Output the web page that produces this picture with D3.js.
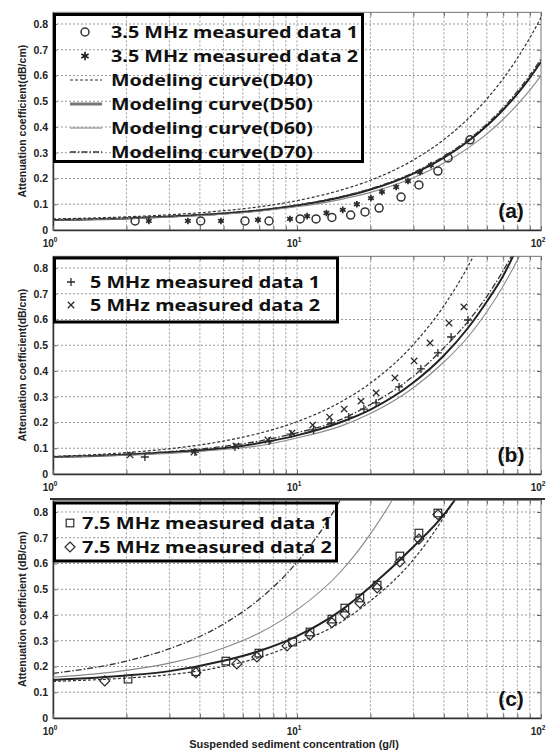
<!DOCTYPE html>
<html><head><meta charset="utf-8">
<script src="https://cdn.jsdelivr.net/npm/d3@7"></script>
<style>body{margin:0;background:#fff}svg{display:block}</style>
</head><body>
<svg id="chart" width="551" height="752"></svg>
<script>
// ---------- DATA ----------
const concGrid = [1,2,3,5,7,10,15,20,30,40,50,60,70,80,90,100];
const curveNames = ["Modeling curve(D40)","Modeling curve(D50)","Modeling curve(D60)","Modeling curve(D70)"];
const yTickValues = [0,0.1,0.2,0.3,0.4,0.5,0.6,0.7,0.8];
const xLabelTicks = [{base:"10",exp:"0",v:1},{base:"10",exp:"1",v:10},{base:"10",exp:"2",v:100}];

// 3.5 MHz
const a_D40 = [0.043,0.051,0.059,0.075,0.090,0.114,0.154,0.193,0.272,0.351,0.430,0.509,0.588,0.667,0.746,0.825];
const a_D50 = [0.039,0.045,0.052,0.064,0.076,0.095,0.126,0.157,0.219,0.281,0.343,0.405,0.467,0.529,0.591,0.653];
const a_D60 = [0.039,0.044,0.050,0.061,0.073,0.090,0.118,0.146,0.203,0.260,0.317,0.373,0.430,0.487,0.543,0.600];
const a_D70 = [0.040,0.047,0.053,0.066,0.078,0.097,0.129,0.160,0.223,0.286,0.349,0.412,0.475,0.538,0.601,0.664];
const a_data1 = [[2.17,0.035],[4.03,0.035],[6.12,0.035],[7.68,0.035],[10.3,0.043],[11.97,0.043],[13.9,0.049],[16.6,0.058],[19.0,0.07],[21.7,0.085],[26.7,0.128],[31.6,0.175],[37.8,0.229],[41.6,0.28],[51.2,0.35]];
const a_data2 = [[2.47,0.035],[3.57,0.035],[4.88,0.035],[6.92,0.039],[9.36,0.043],[11.0,0.054],[13.2,0.066],[15.4,0.078],[17.6,0.10],[20.1,0.124],[22.3,0.148],[25.5,0.167],[28.5,0.19],[31.9,0.225],[35.4,0.252]];

// 5 MHz
const b_D40 = [0.068,0.083,0.098,0.128,0.158,0.203,0.278,0.353,0.503,0.653,0.803,0.953,1.103,1.253,1.403,1.553];
const b_D50 = [0.066,0.075,0.084,0.100,0.120,0.150,0.200,0.250,0.355,0.460,0.565,0.670,0.770,0.880,0.980,1.090];
const b_D60 = [0.065,0.073,0.080,0.095,0.110,0.140,0.185,0.235,0.335,0.435,0.530,0.630,0.730,0.830,0.925,1.020];
const b_D70 = [0.067,0.077,0.087,0.107,0.128,0.160,0.210,0.270,0.380,0.490,0.590,0.690,0.790,0.890,1.000,1.100];
const b_data1 = [[2.38,0.066],[3.82,0.085],[5.57,0.105],[7.68,0.128],[9.45,0.155],[11.7,0.171],[13.8,0.198],[16.3,0.221],[18.8,0.252],[21.1,0.276],[26.2,0.338],[32.2,0.408],[37.8,0.47],[42.8,0.532],[50.2,0.598]];
const b_data2 = [[2.07,0.074],[3.78,0.085],[5.62,0.109],[7.6,0.132],[9.54,0.159],[11.6,0.19],[13.6,0.221],[15.6,0.252],[18.3,0.283],[21.1,0.315],[25.2,0.373],[30.2,0.439],[35.1,0.509],[42.0,0.586],[48.3,0.649]];

// 7.5 MHz
const c_D40 = [0.142,0.155,0.168,0.200,0.235,0.290,0.370,0.455,0.615,0.780,0.940,1.100,1.260,1.420,1.580,1.740];
const c_D50 = [0.148,0.165,0.182,0.222,0.260,0.318,0.415,0.510,0.665,0.790,0.920,1.050,1.180,1.310,1.440,1.570];
const c_D60 = [0.158,0.185,0.213,0.272,0.330,0.420,0.565,0.715,1.000,1.290,1.580,1.870,2.160,2.450,2.740,3.030];
const c_D70 = [0.173,0.221,0.269,0.365,0.461,0.605,0.845,1.085,1.565,2.045,2.525,3.005,3.485,3.965,4.445,4.925];
const c_data1 = [[2.03,0.151],[3.85,0.18],[5.11,0.221],[6.98,0.252],[9.6,0.295],[11.3,0.334],[13.9,0.384],[15.7,0.427],[18.1,0.466],[21.3,0.516],[26.4,0.629],[31.6,0.718],[37.8,0.796]];
const c_data2 = [[1.63,0.144],[3.85,0.176],[5.67,0.21],[6.85,0.237],[9.1,0.28],[11.3,0.322],[13.9,0.37],[15.7,0.404],[18.1,0.447],[21.3,0.505],[26.4,0.606],[31.6,0.695],[37.8,0.79]];

const legendA = ["3.5 MHz measured data 1","3.5 MHz measured data 2"];
const legendB = ["5 MHz measured data 1","5 MHz measured data 2"];
const legendC = ["7.5 MHz measured data 1","7.5 MHz measured data 2"];
const panelTags = ["(a)","(b)","(c)"];

// ---------- DRAW ----------
const svg = d3.select("#chart");
const FONT = "'Liberation Sans', Arial, sans-serif";
const LFONT = "'Noto Sans', 'Open Sans', sans-serif";
const x = d3.scaleLog().domain([1,100]).range([53,541]);
const curveStyles = [
  {stroke:"#333", w:1.2, dash:"3,2"},
  {stroke:"#222", w:2, dash:null},
  {stroke:"#888", w:1.1, dash:null},
  {stroke:"#333", w:1.3, dash:"6,2,1.5,2"}
];

function asterisk(g, cx, cy, r, color){
  const p = d3.path();
  for (let k=0;k<3;k++){
    const a = Math.PI/2 + k*Math.PI/3;
    p.moveTo(cx + r*Math.cos(a), cy + r*Math.sin(a));
    p.lineTo(cx - r*Math.cos(a), cy - r*Math.sin(a));
  }
  g.append("path").attr("d", p.toString()).attr("stroke", color).attr("stroke-width",1.7).attr("fill","none");
}
function marker(g, type, cx, cy){
  const c = "#2a2a2a";
  if (type==="circle") g.append("circle").attr("cx",cx).attr("cy",cy).attr("r",4).attr("fill","none").attr("stroke","#333").attr("stroke-width",1.5);
  else if (type==="star") asterisk(g,cx,cy,3.3,c);
  else if (type==="plus") g.append("path").attr("d",`M${cx-4},${cy}H${cx+4}M${cx},${cy-4}V${cy+4}`).attr("stroke",c).attr("stroke-width",1.3);
  else if (type==="cross") g.append("path").attr("d",`M${cx-3.2},${cy-3.2}L${cx+3.2},${cy+3.2}M${cx-3.2},${cy+3.2}L${cx+3.2},${cy-3.2}`).attr("stroke",c).attr("stroke-width",1.3);
  else if (type==="square") g.append("rect").attr("x",cx-3.8).attr("y",cy-3.8).attr("width",7.6).attr("height",7.6).attr("fill","none").attr("stroke",c).attr("stroke-width",1.2);
  else if (type==="diamond") g.append("path").attr("d",`M${cx},${cy-5}L${cx+5},${cy}L${cx},${cy+5}L${cx-5},${cy}Z`).attr("fill","none").attr("stroke",c).attr("stroke-width",1.2);
}

const panels = [
  {top:12.4, bottom:230, curves:[a_D40,a_D50,a_D60,a_D70], data:[a_data1,a_data2], marks:["circle","star"], yLabel:"Attenuation coefficient(dB/cm)"},
  {top:256.4, bottom:474, curves:[b_D40,b_D50,b_D60,b_D70], data:[b_data1,b_data2], marks:["plus","cross"], yLabel:"Attenuation coefficient(dB/cm)"},
  {top:500.4, bottom:718, curves:[c_D40,c_D50,c_D60,c_D70], data:[c_data1,c_data2], marks:["square","diamond"], yLabel:"Attenuation coefficient (dB/cm)"}
];

panels.forEach((P, pi) => {
  const y = d3.scaleLinear().domain([0,0.845]).range([P.bottom, P.top]);
  const g = svg.append("g");
  const clipId = "clip"+pi;
  svg.append("clipPath").attr("id",clipId).append("rect")
    .attr("x",53).attr("y",P.top).attr("width",488).attr("height",P.bottom-P.top);

  // grid
  const xg = x.ticks();
  g.selectAll(".vg").data(xg.filter(d=>d>1 && d<100)).enter().append("line")
    .attr("x1",d=>x(d)).attr("x2",d=>x(d)).attr("y1",P.top).attr("y2",P.bottom)
    .attr("stroke","#9a9a9a").attr("stroke-width",1).attr("stroke-dasharray","2,2");
  g.selectAll(".hg").data(yTickValues.filter(d=>d>0)).enter().append("line")
    .attr("x1",53).attr("x2",541).attr("y1",d=>y(d)).attr("y2",d=>y(d))
    .attr("stroke","#9a9a9a").attr("stroke-width",1).attr("stroke-dasharray","2,2");

  // frame
  g.append("rect").attr("x",53).attr("y",P.top).attr("width",488).attr("height",P.bottom-P.top)
    .attr("fill","none").attr("stroke","#8c8c8c").attr("stroke-width",1.2);
  if (pi===2) g.append("line").attr("x1",50).attr("x2",545).attr("y1",P.top-1.5).attr("y2",P.top-1.5).attr("stroke","#333").attr("stroke-width",2);

  // axes
  const ya = d3.axisLeft(y).tickValues(yTickValues).tickSizeInner(-4).tickSizeOuter(0).tickPadding(5)
    .tickFormat(d => d===0 ? "0" : d3.format(".1f")(d));
  const yAx = g.append("g").attr("transform","translate(53,0)").call(ya);
  yAx.select(".domain").attr("stroke","#333").attr("stroke-width",1.5);
  yAx.selectAll(".tick line").attr("stroke","#666");
  yAx.selectAll("text").attr("font-family",FONT).attr("font-weight","bold").attr("font-size","10.5px").attr("fill","#222");
  const yr = d3.axisRight(y).tickValues(yTickValues).tickSizeInner(-4).tickSizeOuter(0).tickFormat("");
  const yrAx = g.append("g").attr("transform","translate(541,0)").call(yr);
  yrAx.select(".domain").remove(); yrAx.selectAll(".tick line").attr("stroke","#666");

  const xa = d3.axisBottom(x).tickValues(xg).tickSizeInner(-4).tickSizeOuter(0).tickFormat("");
  const xAx = g.append("g").attr("transform",`translate(0,${P.bottom})`).call(xa);
  xAx.select(".domain").attr("stroke","#333").attr("stroke-width",1.5);
  xAx.selectAll(".tick line").attr("stroke","#666");
  const xt = d3.axisTop(x).tickValues(xg).tickSizeInner(-4).tickSizeOuter(0).tickFormat("");
  const xtAx = g.append("g").attr("transform",`translate(0,${P.top})`).call(xt);
  xtAx.select(".domain").remove(); xtAx.selectAll(".tick line").attr("stroke","#666");

  xLabelTicks.forEach(t => {
    const tx = g.append("text").attr("x",x(t.v)-3).attr("y",P.bottom+17).attr("text-anchor","middle")
      .attr("font-family",FONT).attr("font-weight","bold").attr("font-size","10px").attr("fill","#222");
    tx.append("tspan").text(t.base);
    tx.append("tspan").attr("dy",-5).attr("font-size","6.5px").text(t.exp);
  });

  // y label
  const cy = (P.top+P.bottom)/2;
  g.append("text").attr("transform",`translate(26,${cy}) rotate(-90)`).attr("text-anchor","middle")
    .attr("font-family",FONT).attr("font-weight","bold").attr("font-size","10.5px").attr("fill","#222").text(P.yLabel);

  // curves
  const cg = g.append("g").attr("clip-path",`url(#${clipId})`);
  const line = d3.line().x(d=>x(d[0])).y(d=>y(d[1])).curve(d3.curveMonotoneX);
  P.curves.forEach((vals, ci) => {
    const st = curveStyles[ci];
    cg.append("path").attr("d", line(concGrid.map((c,i)=>[c, vals[i]])))
      .attr("fill","none").attr("stroke",st.stroke).attr("stroke-width",st.w)
      .attr("stroke-dasharray",st.dash);
  });
  // data markers
  P.data.forEach((ds, di) => {
    ds.forEach(d => marker(cg, P.marks[di], x(d[0]), y(d[1])));
  });

  // panel tag
  g.append("text").attr("x",511).attr("y",P.bottom-12).attr("text-anchor","middle")
    .attr("font-family",FONT).attr("font-weight","bold").attr("font-size","21px").attr("fill","#111").text(panelTags[pi]);
});

// ---------- LEGENDS ----------
function legText(x0, yc, txt, len){
  svg.append("text").attr("x",x0).attr("y",yc).attr("dy","0.36em")
    .attr("font-family",LFONT).attr("font-weight","bold").attr("font-size","16px").attr("fill","#111")
    .attr("textLength",len).attr("lengthAdjust","spacingAndGlyphs").text(txt);
}
// (a)
svg.append("rect").attr("x",54.5).attr("y",14.5).attr("width",308).attr("height",147).attr("fill","none").attr("stroke","#000").attr("stroke-width",3);
const la = svg.append("g");
marker(la,"circle",85,32); legText(111,32,legendA[0],247);
asterisk(la,85,56,4.2,"#222"); legText(111,56,legendA[1],247);
curveNames.forEach((n,i) => {
  const yc = 80 + i*24;
  const st = curveStyles[i];
  la.append("line").attr("x1",70).attr("x2",102).attr("y1",yc).attr("y2",yc)
    .attr("stroke", i===1 ? "#777" : st.stroke).attr("stroke-width", i===1 ? 3 : st.w).attr("stroke-dasharray",st.dash);
  legText(111,yc,n,202);
});
// (b)
svg.append("rect").attr("x",54.5).attr("y",258).attr("width",283).attr("height",64).attr("fill","none").attr("stroke","#000").attr("stroke-width",3);
const lb = svg.append("g");
marker(lb,"plus",71,282); legText(90,282,legendB[0],230);
marker(lb,"cross",71,305); legText(90,305,legendB[1],230);
// (c)
svg.append("rect").attr("x",54.5).attr("y",503).attr("width",282).attr("height",58).attr("fill","none").attr("stroke","#000").attr("stroke-width",3);
const lc = svg.append("g");
marker(lc,"square",70,523); legText(82,523,legendC[0],250);
marker(lc,"diamond",70,547); legText(82,547,legendC[1],250);

// x label
svg.append("text").attr("x",294).attr("y",748).attr("text-anchor","middle")
  .attr("font-family",FONT).attr("font-weight","bold").attr("font-size","11px").attr("fill","#222")
  .text("Suspended sediment concentration (g/l)");
</script>
</body></html>
